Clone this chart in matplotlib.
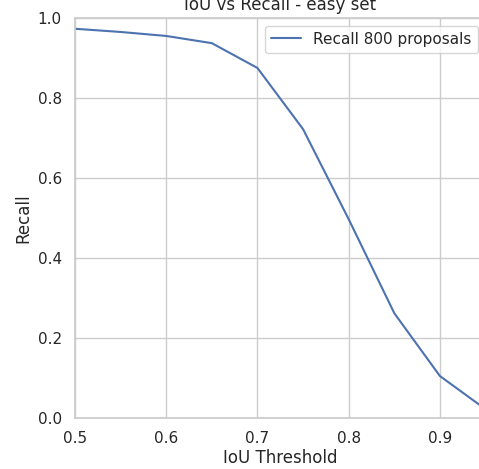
import matplotlib
matplotlib.use("Agg")
import matplotlib.pyplot as plt
import seaborn as sns

# datos
iou = [0.5, 0.55, 0.6, 0.65, 0.7, 0.75, 0.8, 0.85, 0.9, 0.95]
recall = [0.973, 0.965, 0.955, 0.937, 0.875, 0.722, 0.497, 0.262, 0.105, 0.022]

sns.set_theme(style="whitegrid", context="notebook")

fig = plt.figure(figsize=(4.79, 4.69), dpi=100)
ax = fig.add_axes([0.1566, 0.1087, 0.857, 0.853])

ax.plot(iou, recall, label="Recall 800 proposals")
ax.set_xlim(0.5, 0.95)
ax.set_ylim(0.0, 1.0)
ax.set_xticks([0.5, 0.6, 0.7, 0.8, 0.9])
ax.set_yticks([0.0, 0.2, 0.4, 0.6, 0.8, 1.0])
ax.set_xlabel("IoU Threshold", labelpad=2)
ax.set_ylabel("Recall")
ax.set_title("IoU vs Recall - easy set")
ax.legend(loc="upper right")

fig.savefig("out.png", dpi=100)
